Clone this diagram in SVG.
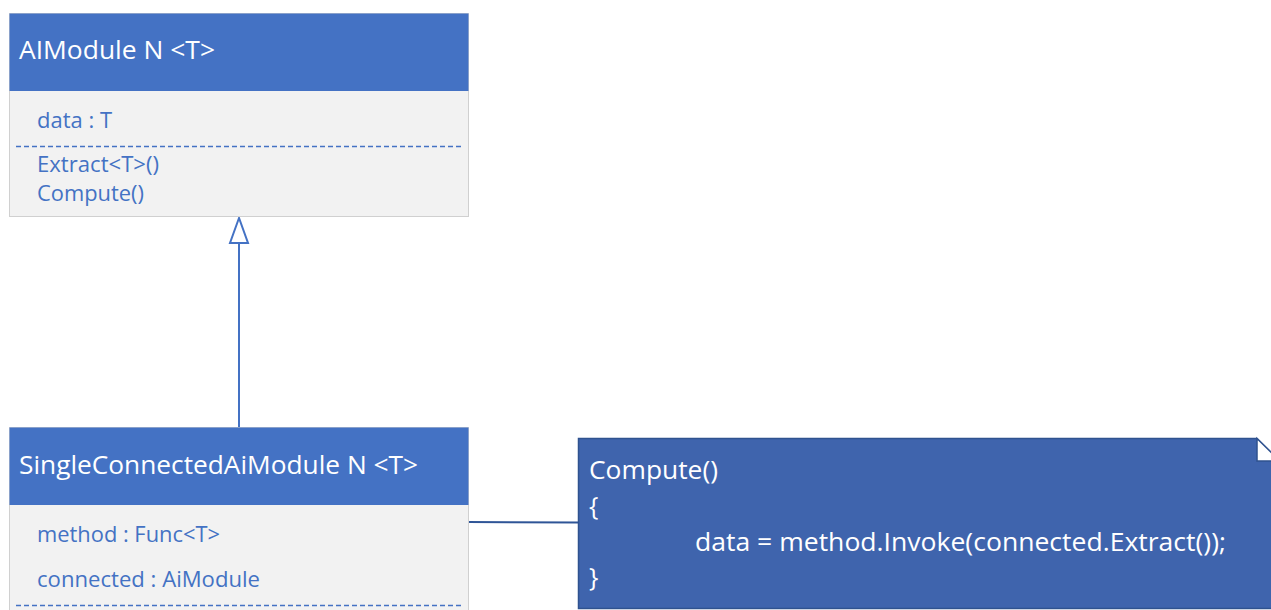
<svg xmlns="http://www.w3.org/2000/svg" width="1271" height="610" viewBox="0 0 1271 610">
  <style>
    .hdr { fill: #4472c4; }
    .body { fill: #f2f2f2; stroke: #d0d0d0; stroke-width: 1; }
    .title { font-family: "Open Sans", "Noto Sans", sans-serif; font-size: 25px; fill: #ffffff; }
    .member { font-family: "Open Sans", "Noto Sans", sans-serif; font-size: 21px; fill: #4472c4; }
    .sep { stroke: #4472c4; stroke-width: 1.5; stroke-dasharray: 5 3; }
    .code { font-family: "Open Sans", "Noto Sans", sans-serif; font-size: 25px; fill: #ffffff; }
    .link { stroke: #4472c4; stroke-width: 2; fill: none; }
  </style>
  <rect width="1271" height="610" fill="#ffffff"/>

  <g id="connectors">
    <!-- generalization: SingleConnectedAiModule to AIModule -->
    <line class="link" x1="239" y1="427" x2="239" y2="243"/>
    <polygon points="239,218 230,243 248,243" fill="#ffffff" stroke="#4472c4" stroke-width="2" stroke-linejoin="miter"/>
    <!-- note anchor -->
    <line x1="468" y1="522" x2="579" y2="522.5" stroke="#2f5597" stroke-width="2"/>
  </g>

  <g id="AIModule">
    <rect class="body" x="9.5" y="13.5" width="459" height="203"/>
    <rect class="hdr" x="9.5" y="13.5" width="459" height="77.5"/>
    <text class="title" x="19" y="59" textLength="196" lengthAdjust="spacingAndGlyphs">AIModule N &lt;T&gt;</text>
    <text class="member" x="37" y="128" textLength="75" lengthAdjust="spacingAndGlyphs">data : T</text>
    <line class="sep" x1="16" y1="146.5" x2="462" y2="146.5"/>
    <text class="member" x="37" y="172" textLength="122" lengthAdjust="spacingAndGlyphs">Extract&lt;T&gt;()</text>
    <text class="member" x="37" y="201" textLength="107" lengthAdjust="spacingAndGlyphs">Compute()</text>
  </g>

  <g id="SingleConnectedAiModule">
    <rect class="body" x="9.5" y="427.5" width="459" height="190"/>
    <rect class="hdr" x="9.5" y="427.5" width="459" height="77.5"/>
    <text class="title" x="19" y="474" textLength="399" lengthAdjust="spacingAndGlyphs">SingleConnectedAiModule N &lt;T&gt;</text>
    <text class="member" x="37" y="542" textLength="183" lengthAdjust="spacingAndGlyphs">method : Func&lt;T&gt;</text>
    <text class="member" x="37" y="587" textLength="223" lengthAdjust="spacingAndGlyphs">connected : AiModule</text>
    <line class="sep" x1="16" y1="605.5" x2="462" y2="605.5"/>
  </g>

  <g id="ComputeNote">
    <path d="M578.5,438.5 H1257 L1280,461 V608.5 H578.5 Z" fill="#3f64ad" stroke="#2f528f" stroke-width="1.5"/>
    <path d="M1257,438.5 V461 H1280 Z" fill="#ffffff" stroke="#2f528f" stroke-width="1.5"/>
    <text class="code" x="589" y="479" textLength="129" lengthAdjust="spacingAndGlyphs">Compute()</text>
    <text class="code" x="589" y="515">{</text>
    <text class="code" x="695" y="551" textLength="531" lengthAdjust="spacingAndGlyphs">data = method.Invoke(connected.Extract());</text>
    <text class="code" x="589" y="586">}</text>
  </g>
</svg>
